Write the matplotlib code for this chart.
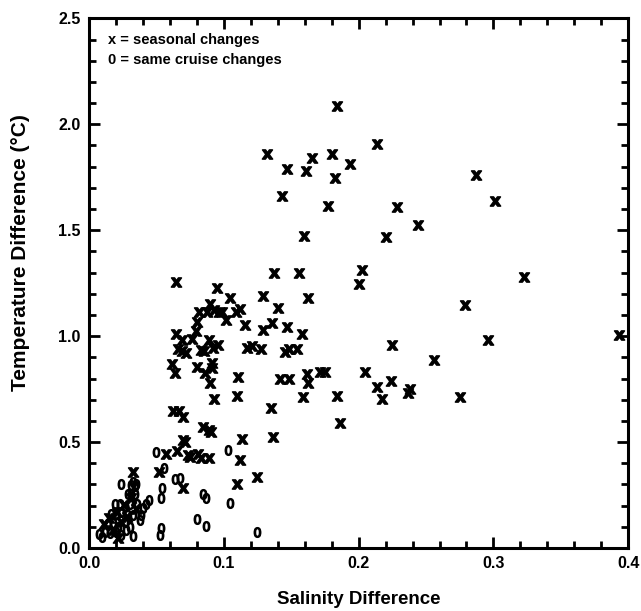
import numpy as np
import matplotlib
matplotlib.use('Agg')
import matplotlib.pyplot as plt
from matplotlib.ticker import MultipleLocator

plt.rcParams['font.family'] = ['Liberation Sans', 'DejaVu Sans']

# seasonal changes (x)
seasonal_sal = [
    0.184, 0.2136, 0.1319, 0.1656, 0.1799, 0.1938, 0.1472, 0.1606, 0.1826, 0.1435,
    0.1769, 0.2284, 0.2437, 0.1591, 0.2205, 0.2873, 0.3012, 0.3229, 0.2789, 0.2957,
    0.393, 0.2556, 0.2378, 0.2368, 0.2754, 0.2025, 0.1999, 0.1373, 0.1561, 0.1042,
    0.1294, 0.1621, 0.1403, 0.0985, 0.1017, 0.1091, 0.1121, 0.1158, 0.1290, 0.1356,
    0.1472, 0.1581, 0.2244, 0.1175, 0.1210, 0.1279, 0.1455, 0.1480, 0.1546, 0.1108,
    0.1418, 0.1480, 0.1616, 0.1621, 0.1715, 0.1747, 0.2044, 0.2240, 0.2136, 0.2173,
    0.1101, 0.1586, 0.1843, 0.1863, 0.0646, 0.0948, 0.0898, 0.0819, 0.0874, 0.0928,
    0.0967, 0.0804, 0.0646, 0.0688, 0.0794, 0.0767, 0.0893, 0.0661, 0.0688, 0.0720,
    0.0831, 0.0856, 0.0918, 0.0960, 0.0618, 0.0638, 0.0800, 0.0911, 0.0915, 0.0863,
    0.0898, 0.0928, 0.1349, 0.0626, 0.0670, 0.0700, 0.0844, 0.0886, 0.0903, 0.1134,
    0.1361, 0.0700, 0.0713, 0.0572, 0.0651, 0.0737, 0.0750, 0.0811, 0.0829, 0.0893,
    0.1121, 0.0522, 0.0696, 0.1097, 0.1245, 0.0324, 0.0111, 0.0148, 0.0178, 0.0208,
    0.0238, 0.0260, 0.0282, 0.0312, 0.0349, 0.0215,
]
seasonal_temp = [
    2.086, 1.909, 1.862, 1.839, 1.862, 1.811, 1.789, 1.780, 1.748, 1.662,
    1.613, 1.609, 1.523, 1.472, 1.469, 1.761, 1.640, 1.280, 1.147, 0.982,
    1.004, 0.887, 0.749, 0.730, 0.711, 1.314, 1.247, 1.298, 1.298, 1.178,
    1.189, 1.181, 1.131, 1.114, 1.076, 1.114, 1.126, 1.053, 1.028, 1.063,
    1.043, 1.009, 0.959, 0.946, 0.954, 0.938, 0.927, 0.938, 0.938, 0.805,
    0.797, 0.797, 0.821, 0.777, 0.832, 0.832, 0.832, 0.789, 0.758, 0.703,
    0.719, 0.714, 0.719, 0.589, 1.256, 1.228, 1.150, 1.114, 1.115, 1.123,
    1.114, 1.067, 1.012, 0.981, 1.024, 0.988, 0.981, 0.941, 0.930, 0.920,
    0.934, 0.929, 0.943, 0.959, 0.871, 0.828, 0.855, 0.875, 0.852, 0.824,
    0.777, 0.703, 0.659, 0.645, 0.645, 0.617, 0.573, 0.558, 0.547, 0.516,
    0.526, 0.508, 0.500, 0.442, 0.457, 0.437, 0.429, 0.442, 0.426, 0.426,
    0.414, 0.359, 0.283, 0.301, 0.335, 0.359, 0.113, 0.141, 0.085, 0.169,
    0.122, 0.202, 0.146, 0.235, 0.183, 0.047,
]

# same cruise changes (0)
cruise_sal = [
    0.0497, 0.1027, 0.0557, 0.0638, 0.0676, 0.0540, 0.0532, 0.0844, 0.0866, 0.1042,
    0.0804, 0.0869, 0.0532, 0.0527, 0.1245, 0.0448, 0.0423, 0.0399, 0.0384,
    0.0235, 0.0351, 0.0339, 0.0310, 0.0329, 0.0314, 0.0290, 0.0339, 0.0191, 0.0228,
    0.0265, 0.0302, 0.0359, 0.0166, 0.0203, 0.0240, 0.0284, 0.0327, 0.0376, 0.0141,
    0.0178, 0.0215, 0.0265, 0.0302, 0.0117, 0.0154, 0.0203, 0.0240, 0.0277, 0.0327,
    0.0074, 0.0097,
]
cruise_temp = [
    0.453, 0.461, 0.379, 0.324, 0.332, 0.285, 0.238, 0.257, 0.238, 0.213,
    0.135, 0.103, 0.093, 0.061, 0.077, 0.226, 0.207, 0.187, 0.155,
    0.304, 0.304, 0.291, 0.296, 0.312, 0.257, 0.257, 0.257, 0.210, 0.210,
    0.194, 0.210, 0.210, 0.163, 0.163, 0.171, 0.163, 0.155, 0.132, 0.108,
    0.116, 0.100, 0.124, 0.100, 0.077, 0.069, 0.077, 0.061, 0.085, 0.056,
    0.066, 0.052,
]

fig = plt.figure(figsize=(6.41, 6.11), dpi=100)
ax = fig.add_axes([0.139, 0.103, 0.841, 0.867])

ax.plot(seasonal_sal, seasonal_temp, ls='none', marker=r'$\mathbf{x}$',
        ms=7.5, color='black')
ax.plot(cruise_sal, cruise_temp, ls='none', marker=r'$0$',
        ms=7, color='black')

ax.set_xlim(0, 0.4)
ax.set_ylim(0, 2.5)
ax.xaxis.set_major_locator(MultipleLocator(0.1))
ax.xaxis.set_minor_locator(MultipleLocator(0.02))
ax.yaxis.set_major_locator(MultipleLocator(0.5))
ax.yaxis.set_minor_locator(MultipleLocator(0.1))
ax.xaxis.set_major_formatter(plt.FormatStrFormatter('%.1f'))
ax.yaxis.set_major_formatter(plt.FormatStrFormatter('%.1f'))

ax.tick_params(which='both', direction='in', top=True, right=True, width=2)
ax.tick_params(which='major', length=8, labelsize=11.5, pad=6)
ax.tick_params(which='minor', length=5)
for lab in ax.get_xticklabels() + ax.get_yticklabels():
    lab.set_fontweight('bold')
for sp in ax.spines.values():
    sp.set_linewidth(2.2)

ax.set_xlabel('Salinity Difference', fontsize=13.5, fontweight='bold', va='center')
ax.set_ylabel('Temperature Difference (\u00b0C)', fontsize=15, fontweight='bold', va='center')
ax.xaxis.set_label_coords(0.5, -0.098)
ax.yaxis.set_label_coords(-0.127, 0.558)

ax.text(0.035, 0.96, 'x = seasonal changes', transform=ax.transAxes,
        fontsize=10.5, fontweight='bold', va='center')
ax.text(0.035, 0.922, '0 = same cruise changes', transform=ax.transAxes,
        fontsize=10.5, fontweight='bold', va='center')

fig.savefig('out.png', dpi=100)
